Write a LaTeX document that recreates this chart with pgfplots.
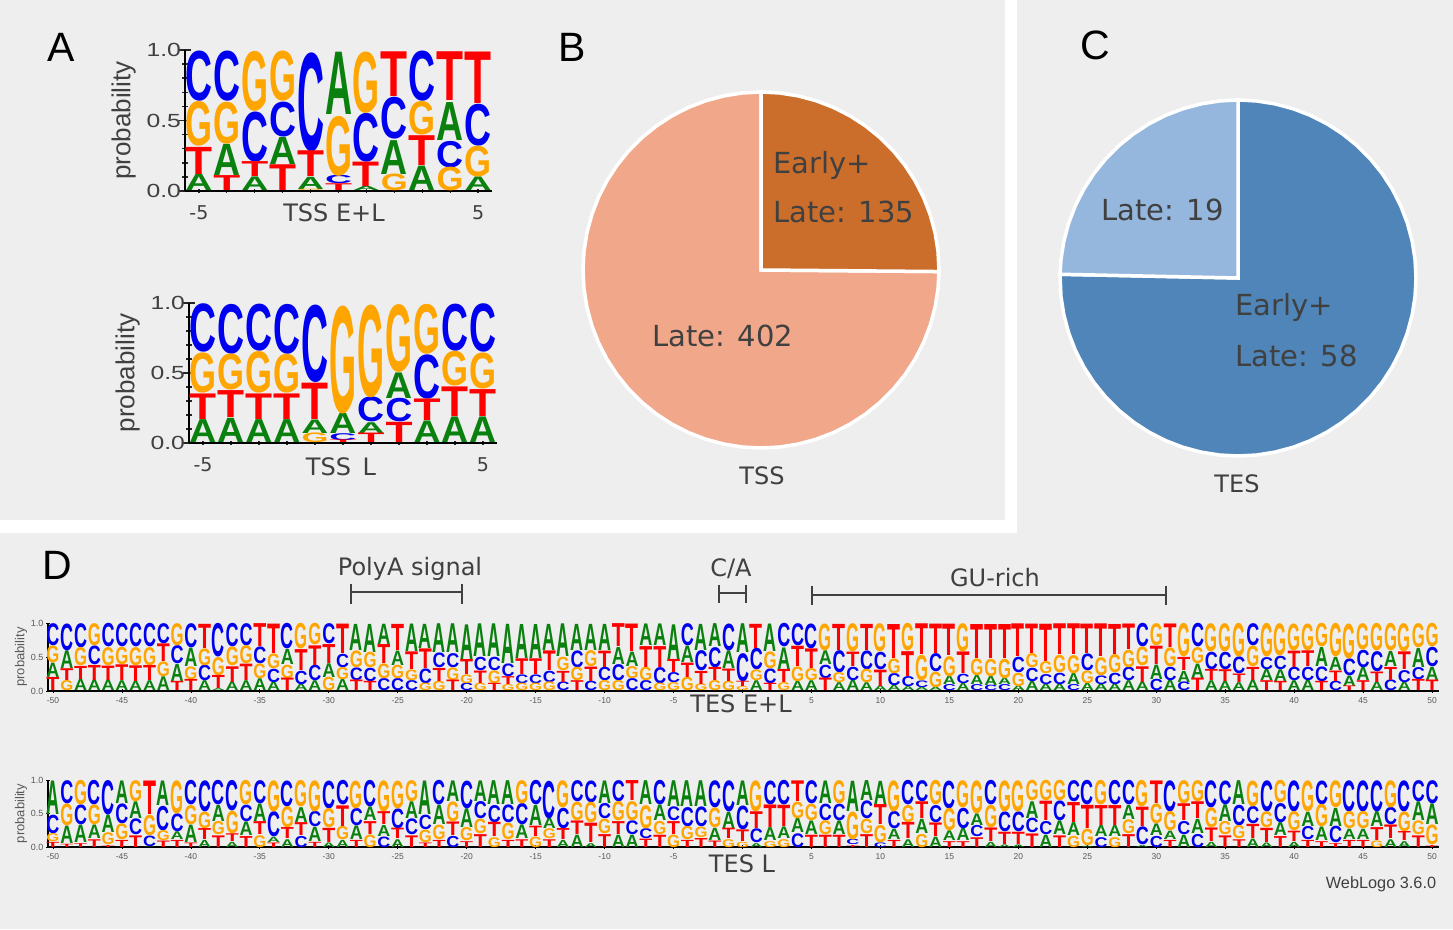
\documentclass[border=0pt]{standalone}
\usepackage{pgfplots}
\usepackage{pgfplotstable}
\usepackage{fontspec}
\pgfplotsset{compat=1.18}
\setmainfont{Liberation Sans}
\newfontfamily\vd{DejaVu Sans}
\newcommand{\fs}[1]{\fontsize{#1}{#1}\selectfont}
\definecolor{panel}{HTML}{EEEEEE}
\definecolor{lgA}{HTML}{0A800F}
\definecolor{lgC}{HTML}{0000F0}
\definecolor{lgG}{HTML}{FFA500}
\definecolor{lgT}{HTML}{FF0000}
\definecolor{txt}{HTML}{404040}
\definecolor{tssdark}{HTML}{CC6E2B}
\definecolor{tsslight}{HTML}{F1A78A}
\definecolor{tesdark}{HTML}{4F85B8}
\definecolor{teslight}{HTML}{95B7DD}
% top-left pixel coordinates of the reference
\newcommand{\PX}[2]{(#1pt,{929pt-#2pt})}

\pgfplotstableread{
p A C G T
-5 .12 .36 .32 .20
-4 .23 .36 .30 .11
-3 .10 .36 .43 .11
-2 .20 .25 .36 .19
-1 .09 .71 .01 .19
0 .46 .06 .43 .05
1 .03 .35 .44 .18
2 .25 .30 .12 .33
3 .18 .36 .24 .22
4 .28 .19 .17 .36
5 .10 .30 .22 .38
}\tssel
\pgfplotstableread{
p A C G T
-5 .17 .35 .29 .19
-4 .18 .36 .26 .20
-3 .17 .34 .30 .19
-2 .17 .36 .28 .19
-1 .10 .56 .07 .27
0 .15 .05 .78 .02
1 .08 .18 .67 .07
2 .19 .17 .49 .15
3 .16 .32 .36 .16
4 .19 .34 .25 .22
5 .19 .35 .26 .20
}\tssl
\pgfplotstableread{
p A C G T
-50 .22 .33 .25 .20
-49 .27 .40 .15 .18
-48 .17 .36 .27 .20
-47 .16 .28 .33 .23
-46 .16 .35 .27 .22
-45 .15 .35 .26 .24
-44 .14 .35 .27 .24
-43 .15 .35 .27 .23
-42 .21 .30 .22 .27
-41 .26 .27 .33 .14
-40 .28 .36 .19 .17
-39 .15 .23 .25 .37
-38 .03 .50 .27 .20
-37 .13 .35 .28 .24
-36 .15 .33 .27 .25
-35 .18 .25 .22 .35
-34 .13 .20 .22 .45
-33 .23 .38 .20 .19
-32 .10 .20 .38 .32
-31 .15 .23 .32 .30
-30 .21 .30 .20 .29
-29 .17 .20 .18 .45
-28 .40 .19 .25 .16
-27 .43 .20 .23 .14
-26 .31 .18 .22 .29
-25 .22 .18 .20 .40
-24 .42 .15 .16 .27
-23 .37 .22 .11 .30
-22 .44 .22 .14 .20
-21 .44 .21 .19 .16
-20 .53 .11 .13 .23
-19 .50 .20 .11 .19
-18 .50 .20 .19 .11
-17 .60 .19 .09 .12
-16 .52 .13 .11 .24
-15 .52 .13 .11 .24
-14 .40 .17 .13 .30
-13 .50 .13 .20 .17
-12 .40 .25 .20 .15
-11 .40 .14 .24 .22
-10 .40 .20 .15 .25
-9 .26 .24 .15 .35
-8 .22 .18 .18 .42
-7 .33 .15 .20 .32
-6 .33 .24 .11 .32
-5 .53 .15 .12 .20
-4 .25 .33 .20 .22
-3 .40 .30 .10 .20
-2 .35 .30 .15 .20
-1 .27 .40 .14 .19
0 .44 .42 .06 .08
1 .15 .32 .16 .37
2 .42 .22 .25 .11
3 .33 .35 .12 .20
4 .14 .33 .22 .31
5 .15 .37 .18 .30
6 .21 .20 .40 .19
7 .12 .33 .15 .40
8 .16 .20 .42 .22
9 .12 .28 .20 .40
10 .07 .26 .42 .25
11 .08 .18 .22 .52
12 .06 .15 .41 .38
13 .05 .10 .38 .47
14 .05 .27 .23 .45
15 .13 .09 .30 .48
16 .11 .14 .42 .33
17 .14 .09 .25 .52
18 .14 .08 .26 .52
19 .10 .09 .29 .52
20 .07 .23 .20 .50
21 .14 .20 .21 .45
22 .10 .15 .18 .57
23 .10 .17 .26 .47
24 .17 .09 .27 .47
25 .11 .25 .19 .45
26 .10 .13 .27 .50
27 .10 .17 .27 .46
28 .15 .20 .26 .39
29 .13 .35 .28 .24
30 .22 .17 .33 .28
31 .16 .20 .28 .36
32 .17 .13 .50 .20
33 .22 .35 .24 .19
34 .15 .26 .42 .17
35 .14 .26 .42 .18
36 .12 .25 .50 .13
37 .16 .33 .31 .20
38 .17 .18 .50 .15
39 .18 .20 .48 .14
40 .15 .20 .40 .25
41 .16 .20 .40 .24
42 .29 .22 .35 .14
43 .20 .14 .50 .16
44 .16 .25 .52 .07
45 .20 .26 .39 .15
46 .13 .30 .41 .16
47 .23 .16 .41 .20
48 .13 .18 .42 .27
49 .29 .18 .36 .17
50 .20 .29 .35 .16
}\tesel
\pgfplotstableread{
p A C G T
-50 .52 .28 .12 .08
-49 .27 .35 .33 .05
-48 .27 .30 .37 .06
-47 .21 .37 .30 .12
-46 .27 .52 .18 .03
-45 .35 .30 .24 .11
-44 .26 .24 .32 .18
-43 .01 .16 .31 .52
-42 .38 .37 .15 .10
-41 .12 .27 .50 .11
-40 .27 .37 .29 .07
-39 .11 .47 .25 .17
-38 .25 .37 .20 .18
-37 .08 .46 .34 .12
-36 .21 .25 .37 .17
-35 .27 .35 .18 .20
-34 .08 .38 .47 .07
-33 .12 .39 .32 .17
-32 .23 .17 .40 .20
-31 .22 .23 .47 .08
-30 .07 .42 .29 .22
-29 .11 .37 .20 .32
-28 .21 .26 .42 .11
-27 .21 .40 .19 .20
-26 .17 .16 .47 .20
-25 .12 .30 .42 .16
-24 .26 .24 .32 .18
-23 .52 .22 .19 .07
-22 .30 .37 .22 .11
-21 .32 .17 .30 .21
-20 .29 .42 .20 .09
-19 .32 .26 .22 .20
-18 .37 .26 .15 .22
-17 .37 .27 .25 .11
-16 .21 .32 .35 .12
-15 .31 .37 .16 .16
-14 .16 .57 .15 .12
-13 .11 .31 .41 .17
-12 .19 .32 .28 .21
-11 .06 .33 .31 .30
-10 .35 .23 .22 .20
-9 .19 .32 .29 .20
-8 .19 .21 .29 .31
-7 .37 .15 .35 .13
-6 .24 .37 .20 .19
-5 .40 .21 .19 .20
-4 .40 .29 .20 .11
-3 .40 .30 .16 .14
-2 .19 .41 .30 .10
-1 .25 .47 .12 .16
0 .38 .36 .08 .18
1 .06 .21 .47 .26
2 .20 .36 .09 .35
3 .18 .37 .12 .33
4 .22 .21 .25 .32
5 .21 .35 .25 .19
6 .35 .25 .21 .19
7 .21 .25 .35 .19
8 .47 .08 .42 .03
9 .31 .27 .22 .20
10 .36 .07 .26 .31
11 .16 .26 .47 .11
12 .12 .37 .26 .25
13 .22 .32 .20 .26
14 .16 .26 .37 .21
15 .15 .42 .34 .09
16 .19 .31 .41 .09
17 .18 .17 .50 .15
18 .08 .37 .34 .21
19 .04 .30 .47 .19
20 .04 .30 .47 .19
21 .26 .22 .31 .21
22 .19 .20 .31 .30
23 .21 .30 .31 .18
24 .20 .32 .17 .31
25 .02 .37 .25 .36
26 .17 .15 .37 .31
27 .17 .37 .15 .31
28 .22 .37 .21 .20
29 .03 .27 .40 .30
30 .18 .17 .30 .35
31 .13 .47 .29 .11
32 .19 .20 .35 .26
33 .22 .20 .32 .26
34 .08 .41 .30 .21
35 .26 .36 .20 .18
36 .37 .31 .20 .12
37 .13 .26 .39 .22
38 .07 .47 .24 .22
39 .20 .29 .34 .17
40 .08 .47 .29 .16
41 .22 .20 .47 .11
42 .21 .36 .34 .09
43 .28 .25 .41 .06
44 .16 .47 .26 .11
45 .16 .47 .26 .11
46 .23 .47 .10 .20
47 .12 .26 .41 .21
48 .09 .47 .30 .14
49 .29 .32 .21 .18
50 .32 .35 .30 .03
}\tesl

% one letter of a logo: table, letter, base, height factor, width (pt)
\newcommand{\letterplot}[6]{%
  \addplot[only marks, mark=none,
    visualization depends on={\thisrow{#2}\as\hgt},
    nodes near coords={#2},
    nodes near coords style={anchor=south, inner sep=0pt, outer sep=0pt,
      text height=71.6pt, text depth=0pt, text=lg#2,
      font=\fs{100}\bfseries, xscale=#5/#6, yscale=\hgt*#4/71.6}]
    table[x=p, y expr={#3}] {#1};
}
% the four letters, stacked by rising probability: table, axis height, column step
\newcommand{\logostack}[3]{%
  \letterplot{#1}{A}{(\thisrow{C}<\thisrow{A})*\thisrow{C}+(\thisrow{G}<\thisrow{A})*\thisrow{G}+(\thisrow{T}<\thisrow{A})*\thisrow{T}}{#2}{#3}{72.2}
  \letterplot{#1}{C}{(\thisrow{A}<=\thisrow{C})*\thisrow{A}+(\thisrow{G}<\thisrow{C})*\thisrow{G}+(\thisrow{T}<\thisrow{C})*\thisrow{T}}{#2}{#3}{72.2}
  \letterplot{#1}{G}{(\thisrow{A}<=\thisrow{G})*\thisrow{A}+(\thisrow{C}<=\thisrow{G})*\thisrow{C}+(\thisrow{T}<\thisrow{G})*\thisrow{T}}{#2}{#3}{77.8}
  \letterplot{#1}{T}{(\thisrow{A}<=\thisrow{T})*\thisrow{A}+(\thisrow{C}<=\thisrow{T})*\thisrow{C}+(\thisrow{G}<=\thisrow{T})*\thisrow{G}}{#2}{#3}{61.1}
}

\pgfplotsset{
  logo/.style={scale only axis, anchor=south west, clip=false,
    ymin=0, ymax=1, ytick={0,0.5,1}, yticklabels={0.0,0.5,1.0},
    minor y tick num=4, tick align=outside,
    axis x line=bottom, axis y line=left, axis line style={-},
    tick style={black}, ylabel={probability}},
  smalllogo/.style={logo, width=307pt, height=141pt, xmin=-5.5, xmax=5.5,
    xtick={-5,...,5}, xticklabels={-5,,,,,,,,,,5},
    axis line style={-, line width=2.2pt}, tick style={black!85, line width=1.5pt},
    major tick length=12pt, minor tick length=6pt,
    xtick style={/pgfplots/major tick length=4pt, line width=1.2pt},
    xticklabel style={font=\vd\fs{19}, text=txt, yshift=-5pt},
    yticklabel style={font=\fs{19}, text=txt, xscale=1.3, xshift=5pt},
    ylabel style={font=\fs{26}, text=txt, yshift=3pt}},
  biglogo/.style={logo, width=1391pt, height=68pt, xmin=-50.36, xmax=50.5,
    xtick={-50,-45,...,50},
    xticklabels={-50,-45,-40,-35,-30,-25,-20,-15,-10,-5,,5,10,15,20,25,30,35,40,45,50},
    minor x tick num=4,
    axis line style={-, line width=1.4pt}, tick style={black, line width=0.7pt},
    major tick length=4pt, minor tick length=2pt,
    xticklabel style={font=\fs{8.5}, text=black!65, yshift=-1pt},
    yticklabel style={font=\fs{9}, text=black!65, xshift=1pt},
    ylabel style={font=\fs{13}, text=black!65, yshift=-3pt}},
  pie/.style={scale only axis, anchor=south west, width=356pt, height=356pt,
    hide axis, clip=false, data cs=polar,
    xmin=-1, xmax=1, ymin=-1, ymax=1}
}

\begin{document}
\begin{tikzpicture}
\path[use as bounding box] (0,0) rectangle (1453pt,929pt);
\fill[panel] (0,0) rectangle (1453pt,929pt);
\fill[white] \PX{0}{520} rectangle \PX{1017}{533};
\fill[white] \PX{1005}{0} rectangle \PX{1017}{533};

\begin{axis}[smalllogo, at={(185pt,738pt)}]
  \logostack{\tssel}{141}{27}
\end{axis}
\begin{axis}[smalllogo, at={(189pt,486pt)}, height=140pt, width=308pt]
  \logostack{\tssl}{140}{27}
\end{axis}

\begin{axis}[pie, at={(583pt,481pt)}]
  \addplot[fill=tsslight, draw=white, line width=3.5pt] coordinates {(0,0) (-0.5,1) (-6,1) (-12,1) (-18,1) (-24,1) (-30,1) (-36,1) (-42,1) (-48,1) (-54,1) (-60,1) (-66,1) (-72,1) (-78,1) (-84,1) (-90,1) (-96,1) (-102,1) (-108,1) (-114,1) (-120,1) (-126,1) (-132,1) (-138,1) (-144,1) (-150,1) (-156,1) (-162,1) (-168,1) (-174,1) (-180,1) (-186,1) (-192,1) (-198,1) (-204,1) (-210,1) (-216,1) (-222,1) (-228,1) (-234,1) (-240,1) (-246,1) (-252,1) (-258,1) (-264,1) (-270,1)} -- cycle;
  \addplot[fill=tssdark, draw=white, line width=3.5pt] coordinates {(0,0) (90,1) (84,1) (78,1) (72,1) (66,1) (60,1) (54,1) (48,1) (42,1) (36,1) (30,1) (24,1) (18,1) (12,1) (6,1) (-0.5,1)} -- cycle;
\end{axis}
\begin{axis}[pie, at={(1060pt,473pt)}]
  \addplot[fill=tesdark, draw=white, line width=3.5pt] coordinates {(0,0) (178.8,1) (186,1) (192,1) (198,1) (204,1) (210,1) (216,1) (222,1) (228,1) (234,1) (240,1) (246,1) (252,1) (258,1) (264,1) (270,1) (276,1) (282,1) (288,1) (294,1) (300,1) (306,1) (312,1) (318,1) (324,1) (330,1) (336,1) (342,1) (348,1) (354,1) (360,1) (366,1) (372,1) (378,1) (384,1) (390,1) (396,1) (402,1) (408,1) (414,1) (420,1) (426,1) (432,1) (438,1) (444,1) (450,1)} -- cycle;
  \addplot[fill=teslight, draw=white, line width=3.5pt] coordinates {(0,0) (90,1) (96,1) (102,1) (108,1) (114,1) (120,1) (126,1) (132,1) (138,1) (144,1) (150,1) (156,1) (162,1) (168,1) (174,1) (178.8,1)} -- cycle;
\end{axis}

\begin{axis}[biglogo, at={(48pt,238pt)}]
  \logostack{\tesel}{68}{13}
\end{axis}
\begin{axis}[biglogo, at={(48pt,82pt)}, height=67pt]
  \logostack{\tesl}{67}{13}
\end{axis}

\node[font=\fs{41}] at \PX{61}{47} {A};
\node[font=\fs{41}] at \PX{572}{47} {B};
\node[font=\fs{41}] at \PX{1095}{45} {C};
\node[font=\fs{41}] at \PX{57}{565} {D};

\begin{scope}[every node/.style={font=\vd\fs{29}, text=txt, anchor=west}]
  \node at \PX{770}{166} {Early+};
  \node at \PX{770}{212} {Late: 135};
  \node at \PX{649}{336} {Late: 402};
  \node at \PX{1098}{210} {Late: 19};
  \node at \PX{1232}{308} {Early+};
  \node at \PX{1232}{356} {Late: 58};
\end{scope}

\begin{scope}[every node/.style={font=\vd\fs{24}, text=txt}]
  \node at \PX{334}{213} {TSS E+L};
  \node at \PX{341}{467} {TSS\, L};
  \node at \PX{762}{476} {TSS};
  \node at \PX{1237}{484} {TES};
  \node at \PX{741}{704} {TES E+L};
  \node at \PX{742}{864} {TES L};
  \node at \PX{410}{569} {PolyA signal};
  \node at \PX{731}{569} {C/A};
  \node at \PX{995}{578} {GU-rich};
\end{scope}
\node[font=\fs{16.3}, text=txt] at \PX{1381}{884} {WebLogo 3.6.0};

\draw[black!75, line width=1.6pt] \PX{351}{592} -- \PX{462}{592};
\draw[black!75, line width=1.6pt] \PX{351}{584} -- \PX{351}{604};
\draw[black!75, line width=1.6pt] \PX{462}{584} -- \PX{462}{604};
\draw[black!75, line width=1.6pt] \PX{719}{593} -- \PX{746}{593};
\draw[black!75, line width=1.6pt] \PX{719}{585} -- \PX{719}{603};
\draw[black!75, line width=1.6pt] \PX{746}{585} -- \PX{746}{603};
\draw[black!75, line width=1.6pt] \PX{812}{595} -- \PX{1166}{595};
\draw[black!75, line width=1.6pt] \PX{812}{586} -- \PX{812}{605};
\draw[black!75, line width=1.6pt] \PX{1166}{586} -- \PX{1166}{605};
\end{tikzpicture}
\end{document}
